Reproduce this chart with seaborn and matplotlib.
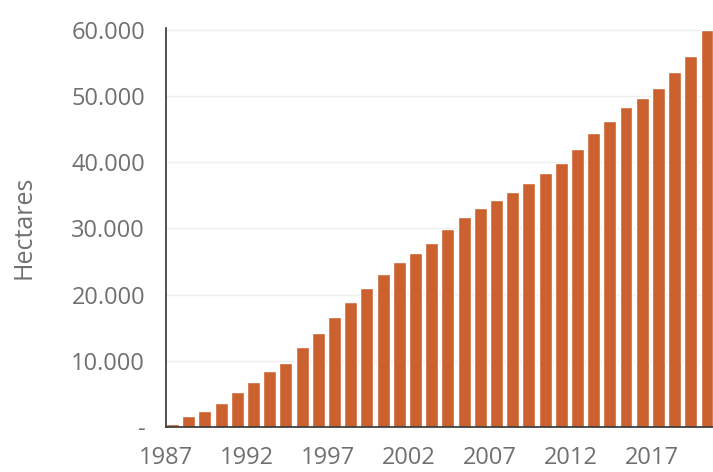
import seaborn as sns
import numpy as np
import pandas as pd
import matplotlib.pyplot as plt

years = list(range(1987, 2021))
hectares = [500, 1660, 2420, 3670, 5330, 6750, 8500, 9710, 12040, 14240,
            16570, 18880, 21040, 23060, 24970, 26240, 27750, 29860, 31720, 33130,
            34290, 35500, 36900, 38320, 39920, 41990, 44360, 46270, 48290, 49740,
            51250, 53580, 56040, 59970]
ytick_vals = [0, 10000, 20000, 30000, 40000, 50000, 60000]
ytick_labels = ['-', '10.000', '20.000', '30.000', '40.000', '50.000', '60.000']
xtick_years = [1987, 1992, 1997, 2002, 2007, 2012, 2017]

df = pd.DataFrame({'year': [str(y) for y in years], 'hectares': hectares})

sns.set_style("white")
plt.rcParams['font.family'] = ['Open Sans', 'DejaVu Sans']

fig = plt.figure(figsize=(7.13, 4.72), dpi=100)
ax = fig.add_axes([166 / 713, 45 / 472, 1 - 166 / 713, (427 - 28) / 472])

sns.barplot(df, x='year', y='hectares', color='#CA612F', width=0.8,
            saturation=1, ax=ax)

# ticks sit at the left edge of each bar
ax.set_xticks([years.index(y) - 0.4 for y in xtick_years])
ax.set_xticklabels([str(y) for y in xtick_years])
ax.set_xlim(-0.4, 33.37)
ax.set_ylim(0, 60300)
ax.set_yticks(ytick_vals)
ax.set_yticklabels(ytick_labels)

ax.grid(True, axis='y', color='#eeeeee', linewidth=1)
ax.set_axisbelow(True)
for s in ['top', 'right']:
    ax.spines[s].set_visible(False)
for s in ['left', 'bottom']:
    ax.spines[s].set_color('#333333')
    ax.spines[s].set_linewidth(1.2)

ax.tick_params(axis='x', direction='out', length=9, width=1.2, color='#333333',
               labelsize=17, labelcolor='#707070', pad=5)
ax.tick_params(axis='y', length=0, labelsize=17, labelcolor='#707070', pad=15)
ax.set_xlabel('')
ax.set_ylabel('Hectares', fontsize=18, color='#707070', labelpad=25)

fig.savefig('out.png', dpi=100)
